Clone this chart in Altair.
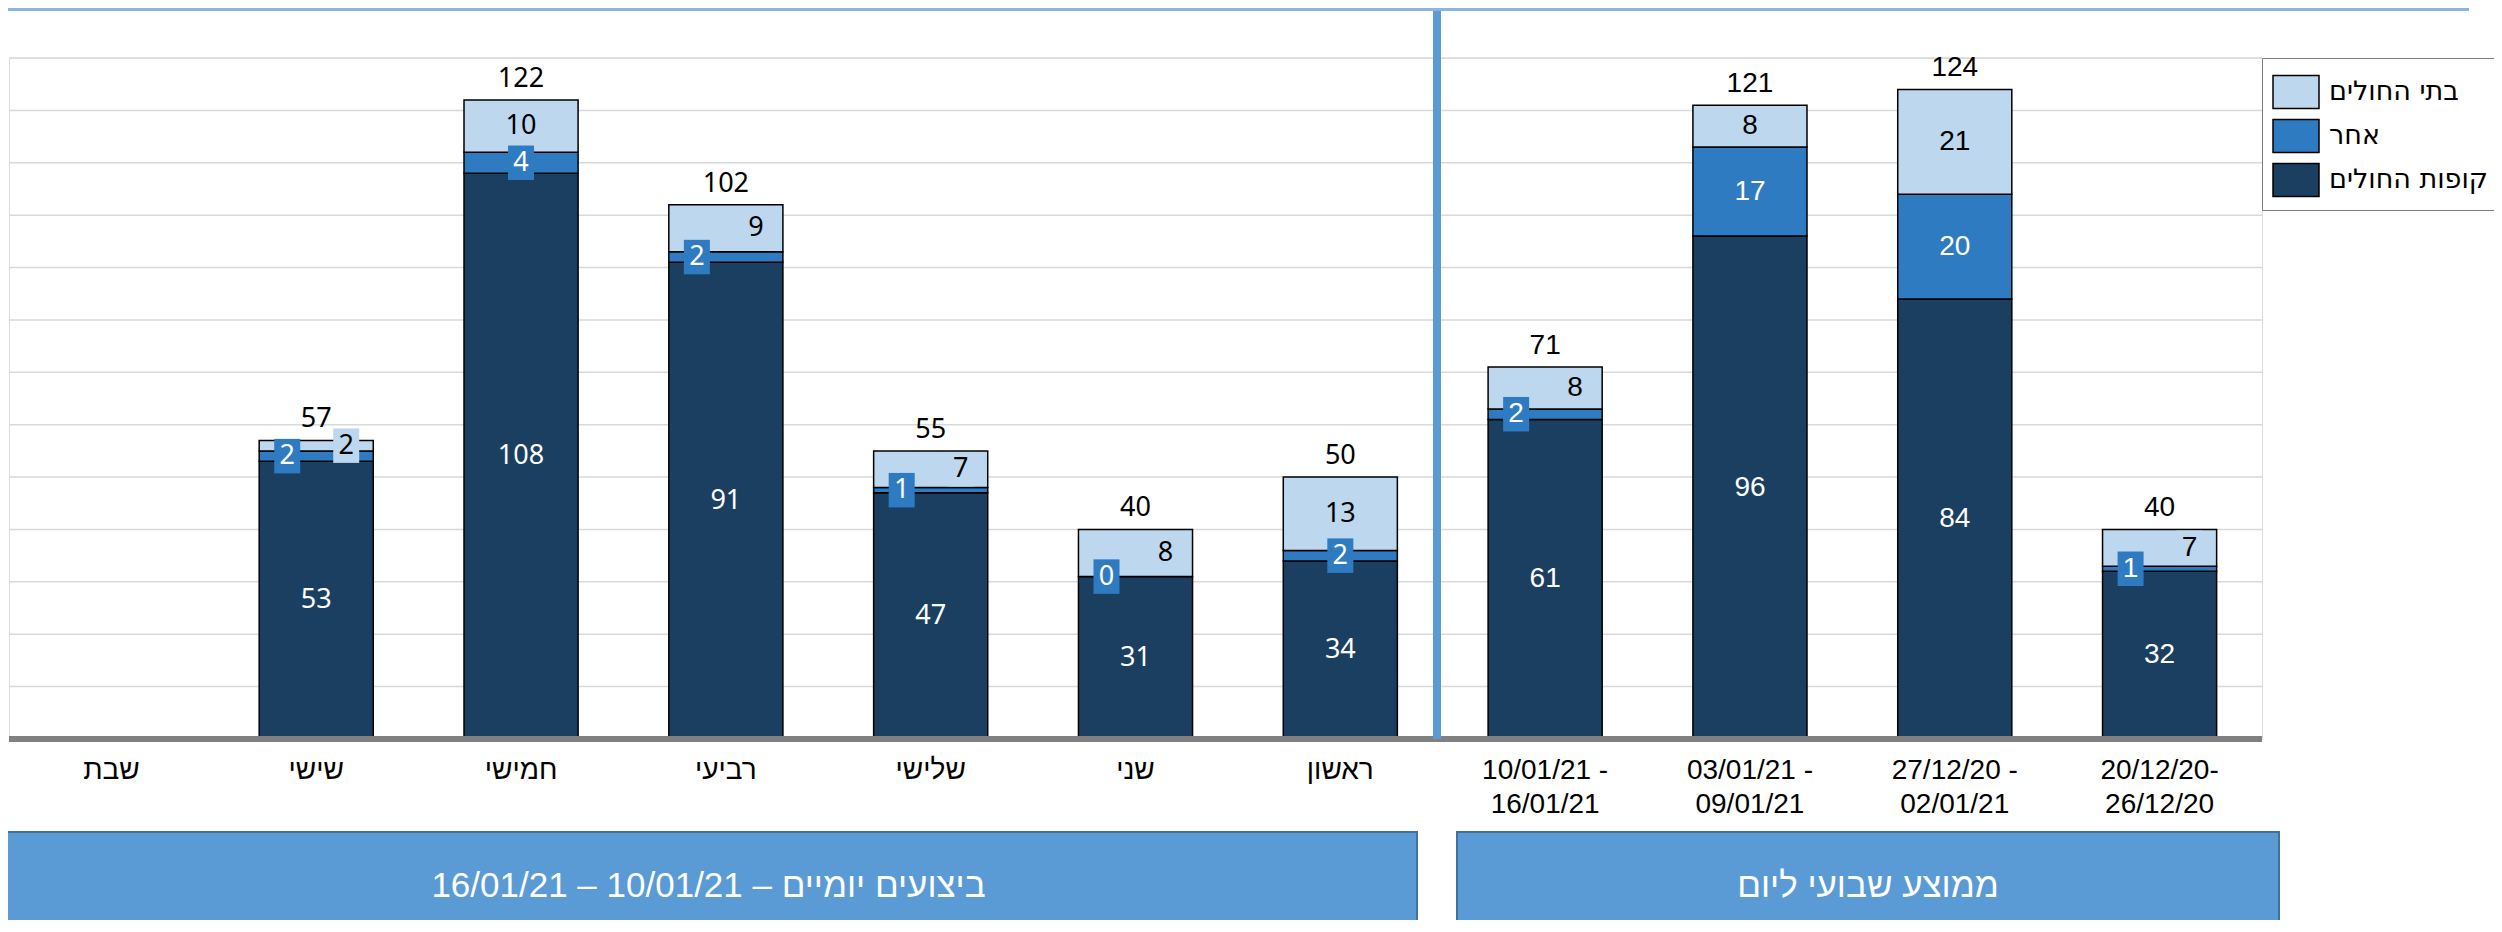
import altair as alt
import pandas as pd

# ---------------- data ----------------
categories = ["שבת", "שישי", "חמישי", "רביעי", "שלישי", "שני", "ראשון",
              "10/01/21 -\n16/01/21", "03/01/21 -\n09/01/21",
              "27/12/20 -\n02/01/21", "20/12/20-\n26/12/20"]
kupot = [None, 53, 108, 91, 47, 31, 34, 61, 96, 84, 32]      # קופות החולים
acher = [None, 2, 4, 2, 1, 0, 2, 2, 17, 20, 1]               # אחר
batei = [None, 2, 10, 9, 7, 8, 13, 8, 8, 21, 7]              # בתי החולים
totals = [None, 57, 122, 102, 55, 40, 50, 71, 121, 124, 40]
grid_values = [10, 20, 30, 40, 50, 60, 70, 80, 90, 100, 110, 120, 130]
n_daily = 7
series = ["בתי החולים", "אחר", "קופות החולים"]
colors = ["#bdd7ee", "#2f7bc2", "#1b3f61"]
text_colors = ["black", "white", "white"]
banner_texts = ["16/01/21 – 10/01/21 – ביצועים יומיים", "ממוצע שבועי ליום"]

# ---------------- layout constants ----------------
W, H = 2253, 681          # plot area
TOTAL_W, TOTAL_H = 2486, 912
PAD = {"left": 1, "top": 50, "right": TOTAL_W - 1 - W, "bottom": TOTAL_H - 50 - H}
OFF_L, OFF_R = -29, 30
CROWD = 6.5

rows = []
for i, c in enumerate(categories):
    if kupot[i] is None:
        continue
    d1 = kupot[i]
    m1 = kupot[i] + acher[i]
    t = totals[i]
    sec = "daily" if i < n_daily else "weekly"
    mid_mid = (d1 + m1) / 2
    light_mid = (m1 + t) / 2
    crowded = (light_mid - mid_mid) < CROWD
    segs = [
        (series[2], kupot[i], 0, d1, 0, colors[2], text_colors[2], False),
        (series[1], acher[i], d1, m1, OFF_L if crowded else 0, colors[1], text_colors[1], True),
        (series[0], batei[i], m1, t, OFF_R if crowded else 0, colors[0], text_colors[0], True),
    ]
    for s, v, a, b, off, fc, tc, box in segs:
        rows.append(dict(cat=c, series=s, val=v, y0=a, y1=b, mid=(a + b) / 2,
                         off=off, fillc=fc, tc=tc, box=box, sec=sec, total=t))
df = pd.DataFrame(rows)
tot_df = df.drop_duplicates("cat")[["cat", "total", "sec"]]
grid_df = pd.DataFrame({"g": grid_values})

xscale = alt.Scale(domain=categories, paddingInner=0.443, paddingOuter=0.2215)
xaxis = alt.Axis(title=None, labelExpr="split(datum.label, '\\n')", labelFontSize=28,
                 labelFont="Liberation Sans", labelColor="black", labelAngle=0,
                 labelPadding=17, labelBaseline="top", labelLineHeight=34,
                 domain=False, ticks=False, tickSize=0, labelLimit=400, grid=False)
X = alt.X("cat:N", scale=xscale, axis=xaxis, sort=categories)
yscale = alt.Scale(domain=[0, 130], nice=False)

grid = alt.Chart(grid_df).mark_rule(color="#d9d9d9", strokeWidth=1.5).encode(
    y=alt.Y("g:Q", scale=yscale, axis=None), x=alt.value(0), x2=alt.value(W))

bars = alt.Chart(df).mark_bar(stroke="black", strokeWidth=1.5).encode(
    x=X,
    y=alt.Y("y0:Q", scale=yscale, axis=None),
    y2="y1:Q",
    fill=alt.Fill("series:N", scale=alt.Scale(domain=series, range=colors),
                  legend=alt.Legend(title=None, orient="none", legendX=W, legendY=0,
                                    direction="vertical",
                                    symbolType="M-1,-0.717L1,-0.717L1,0.717L-1,0.717Z",
                                    symbolSize=2116, symbolStrokeColor="black",
                                    symbolStrokeWidth=1.5, symbolOpacity=1,
                                    labelFont="DejaVu Sans", labelFontSize=27,
                                    labelColor="black", labelOffset=9, labelLimit=400,
                                    padding=10, strokeColor="#7f7f7f", fillColor="white",
                                    rowPadding=0)),
)

layers = [grid, bars]
BOX_SHAPE = "M-0.754,-1L0.754,-1L0.754,1L-0.754,1Z"
fonts = {"daily": ("Noto Sans", 27), "weekly": ("Liberation Sans", 28)}
for off in [OFF_L, 0, OFF_R]:
    boxes = alt.Chart(df).transform_filter(
        f"datum.box && datum.off == {off}"
    ).mark_point(shape=BOX_SHAPE, filled=True, size=1190, opacity=1, strokeWidth=0,
                 xOffset=off).encode(
        x=X, y=alt.Y("mid:Q", scale=yscale, axis=None),
        fill=alt.Fill("fillc:N", scale=None))
    layers.append(boxes)
for sec, (fnt, fs) in fonts.items():
    for off in [OFF_L, 0, OFF_R]:
        txt = alt.Chart(df).transform_filter(
            f"datum.sec == '{sec}' && datum.off == {off}"
        ).mark_text(font=fnt, fontSize=fs, baseline="middle", align="center", dx=off).encode(
            x=X, y=alt.Y("mid:Q", scale=yscale, axis=None),
            text="val:Q", color=alt.Color("tc:N", scale=None))
        layers.append(txt)
    tot = alt.Chart(tot_df).transform_filter(f"datum.sec == '{sec}'").mark_text(
        font=fnt, fontSize=fs, baseline="alphabetic", align="center", dy=-13, color="black"
    ).encode(x=X, y=alt.Y("total:Q", scale=yscale, axis=None), text="total:Q")
    layers.append(tot)

one = pd.DataFrame({"k": [0]})
baseline = alt.Chart(one).mark_rule(color="#808080", strokeWidth=6).encode(
    x=alt.value(0), x2=alt.value(W), y=alt.value(H))
separator = alt.Chart(one).mark_rule(color="#5b9bd5", strokeWidth=8).encode(
    x=alt.value(1428), y=alt.value(-49), y2=alt.value(H))
topline = alt.Chart(one).mark_rule(color="#8db3e2", strokeWidth=3).encode(
    x=alt.value(-1), x2=alt.value(2460), y=alt.value(-48.5))
layers += [baseline, separator, topline]

banner_x = [(-9, 1408), (1448, 2270)]
for (bx0, bx1), t in zip(banner_x, banner_texts):
    bdf = pd.DataFrame({"t": [t]})
    rect = alt.Chart(bdf).mark_rect(color="#5b9bd5", stroke="#41719c", strokeWidth=2).encode(
        x=alt.value(bx0), x2=alt.value(bx1), y=alt.value(774), y2=alt.value(TOTAL_H - 50 + 5))
    lab = alt.Chart(bdf).mark_text(font="Liberation Sans", fontSize=35, color="white",
                                   align="center", baseline="middle").encode(
        x=alt.value((bx0 + bx1) / 2), y=alt.value(828), text="t:N")
    layers += [rect, lab]

chart = alt.layer(*layers).properties(
    width=W, height=H, padding=PAD, autosize=alt.AutoSizeParams(type="none")
).configure_view(stroke="transparent", strokeWidth=0).configure(background="white")

chart.save("out.html", embed_options={"renderer": "svg", "actions": False})
